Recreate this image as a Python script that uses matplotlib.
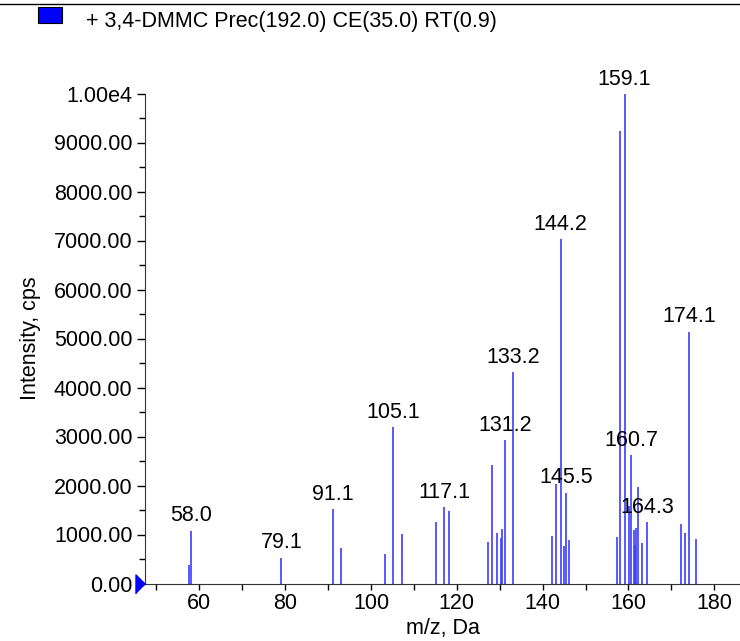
import matplotlib
matplotlib.use("Agg")
import matplotlib.pyplot as plt
from matplotlib.lines import Line2D
from matplotlib.patches import Rectangle
from matplotlib.ticker import MultipleLocator, FuncFormatter

plt.rcParams['font.family'] = ['Liberation Sans', 'DejaVu Sans']

# peak list
mz = [57.5, 58.0, 79.1, 91.1, 93.1, 103.2, 105.1, 107.2, 115.1, 117.1, 118.1,
      127.2, 128.2, 129.3, 130.2, 130.6, 131.2, 133.2, 142.2, 143.2, 144.2,
      145.1, 145.5, 146.2, 157.3, 158.1, 159.1, 160.2, 160.7, 161.2, 161.5,
      161.8, 162.3, 163.1, 164.3, 172.2, 173.2, 174.1, 175.7]
intensity = [380, 1080, 530, 1515, 730, 600, 3195, 1010, 1255, 1560, 1485,
             840, 2420, 1035, 930, 1105, 2935, 4310, 970, 2040, 7030,
             765, 1855, 880, 955, 9235, 9990, 1580, 2620, 1090, 785,
             1125, 1975, 820, 1260, 1215, 1025, 5140, 900]
labelled = ['58.0', '79.1', '91.1', '105.1', '117.1', '131.2', '133.2',
            '144.2', '145.5', '159.1', '160.7', '164.3', '174.1']
title = '+ 3,4-DMMC Prec(192.0) CE(35.0) RT(0.9)'

fig = plt.figure(figsize=(7.4, 6.41), dpi=100)
ax = fig.add_axes([145 / 740, 1 - 583.5 / 641, 595 / 740, 490 / 641])

ax.vlines(mz, 0, intensity, color='#3c3cff', lw=1.2)

for m, h in zip(mz, intensity):
    lab = '%.1f' % m
    if lab in labelled:
        ax.annotate(lab, (m, h), xytext=(0, 3), textcoords='offset points',
                    ha='center', va='bottom', fontsize=15.5)

ax.set_xlim(47.34, 186.0)
ax.set_ylim(0, 10000)
ax.xaxis.set_major_locator(MultipleLocator(20))
ax.xaxis.set_minor_locator(MultipleLocator(10))
ax.yaxis.set_major_locator(MultipleLocator(1000))
ax.yaxis.set_minor_locator(MultipleLocator(500))


def yfmt(v, pos):
    if v >= 10000:
        return '1.00e4'
    return '%.2f' % v


ax.yaxis.set_major_formatter(FuncFormatter(yfmt))
ax.tick_params(axis='both', which='major', labelsize=15.5, length=6, width=1, pad=3)
ax.tick_params(axis='both', which='minor', length=4, width=1)
ax.tick_params(axis='x', which='major', length=4)

for s in ['top', 'right']:
    ax.spines[s].set_visible(False)
ax.spines['left'].set_color('#333333')
ax.spines['bottom'].set_color('#333333')

ax.set_xlabel('m/z, Da', fontsize=15.5, labelpad=3)
ax.set_ylabel('Intensity, cps', fontsize=15.5, labelpad=9)

# blue marker at the origin
ax.plot([47.34], [0], marker=[(-1, -1), (-1, 1), (0, 0)], markersize=13.7,
        color='blue', clip_on=False, zorder=5)

# header line and legend box
fig.add_artist(Line2D([0, 1], [1 - 4 / 641, 1 - 4 / 641], color='black', lw=1))
fig.add_artist(Rectangle((38 / 740, 1 - 23 / 641), 24 / 740, 16 / 641,
                         facecolor='blue', edgecolor='black', lw=0.8))
fig.text(86 / 740, 1 - 21 / 641, title, fontsize=15.5, va='center', ha='left')

fig.savefig('out.png', dpi=100)
